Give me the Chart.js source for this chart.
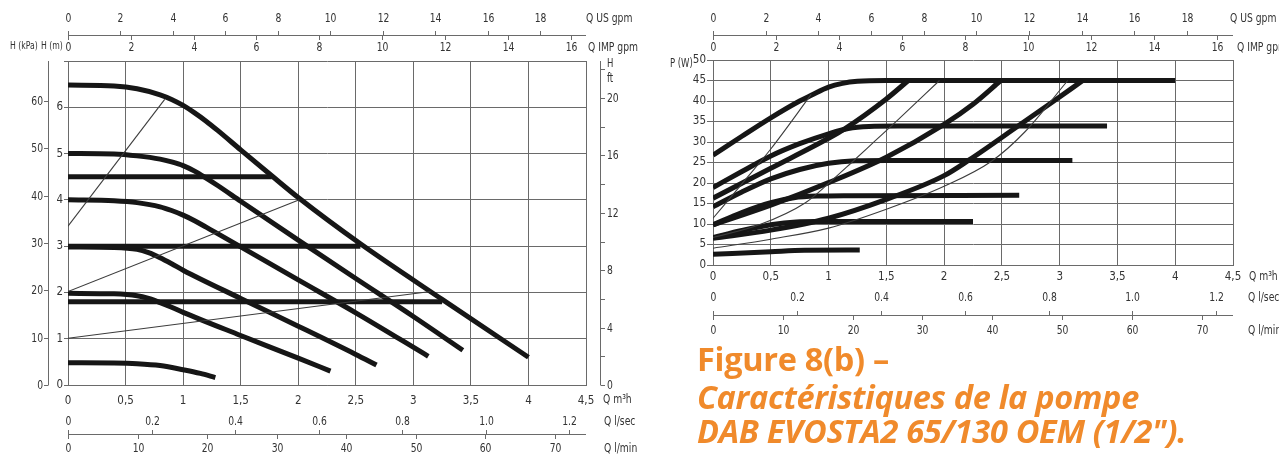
<!DOCTYPE html>
<html><head><meta charset="utf-8">
<script src="https://cdn.jsdelivr.net/npm/chart.js@4.4.1/dist/chart.umd.min.js"></script>
<style>
html,body{margin:0;padding:0;background:#fff;width:1279px;height:457px;overflow:hidden;}
#c1{position:absolute;left:0;top:0;}
#c2{position:absolute;left:640px;top:0;}
#cap{position:absolute;left:697px;top:340px;color:#F08A2B;font-family:'Open Sans','Noto Sans',sans-serif;font-weight:700;font-size:32.5px;line-height:38px;white-space:nowrap;letter-spacing:-0.3px;}
#cap .it{font-style:italic;}
#cap .l3{margin-top:-4px;}
</style></head><body>
<canvas id="c1" width="640" height="457"></canvas>
<canvas id="c2" width="639" height="345"></canvas>
<div id="cap"><div>Figure 8(b) –</div><div class="it">Caractéristiques de la pompe</div><div class="it l3">DAB EVOSTA2 65/130 OEM (1/2").</div></div>
<script>
// ---------- tick labels / axis values ----------
const QM3H_TICK_LABELS = ['0','0,5','1','1,5','2','2,5','3','3,5','4','4,5'];
const US_GPM_TICKS = [0,2,4,6,8,10,12,14,16,18];
const IMP_GPM_TICKS = [0,2,4,6,8,10,12,14,16];
const LSEC_TICKS = [0,0.2,0.4,0.6,0.8,1.0,1.2];
const LSEC_LABELS = ['0','0.2','0.4','0.6','0.8','1.0','1.2'];
const LMIN_TICKS = [0,10,20,30,40,50,60,70];
const HM_TICK_LABELS = ['0','1','2','3','4','5','6',''];
const HKPA_TICKS = [0,10,20,30,40,50,60];
const HFT_TICKS = [0,2,4,6,8,10,12,14,16,18,20,22];
const HFT_LABELLED = [0,4,8,12,16,20];
const PW_TICK_LABELS = ['0','5','10','15','20','25','30','35','40','45','50'];

// unit conversions (from m3/h and m), as calibrated on the drawing
const M3H_TO_USGPM = 4.39, M3H_TO_IMPGPM = 3.665, M3H_TO_LSEC = 0.2755, M3H_TO_LMIN = 16.55;
const KPA_TO_M = 0.1023, FT_TO_M = 0.31;

// ---------- H-Q curves (Q m3/h, H m) ----------
const HQ_MAX_Q = [0,0.4,0.6,0.8,0.9,1.0,1.1,1.2,1.3,1.5,1.77,2.0,2.54,3.25,4.0];
const HQ_MAX_H = [6.48,6.46,6.4,6.27,6.17,6.04,5.88,5.7,5.5,5.08,4.52,4.05,3.05,1.85,0.6];
const HQ_5_Q = [0,0.4,0.6,0.8,0.9,1.0,1.1,1.2,1.3,1.5,2.0,2.5,3.0,3.43];
const HQ_5_H = [5.0,4.99,4.95,4.88,4.82,4.74,4.62,4.47,4.31,3.97,3.13,2.3,1.48,0.75];
const HQ_4_Q = [0,0.4,0.6,0.8,0.9,1.0,1.1,1.2,1.3,2.0,2.5,3.13];
const HQ_4_H = [4.0,3.98,3.94,3.85,3.77,3.67,3.55,3.41,3.27,2.27,1.56,0.62];
const HQ_3_Q = [0,0.4,0.6,0.7,0.8,0.9,1.0,1.5,2.0,2.5,2.68];
const HQ_3_H = [2.98,2.97,2.93,2.86,2.75,2.62,2.48,1.87,1.27,0.66,0.43];
const HQ_2_Q = [0,0.4,0.6,0.7,0.8,0.9,1.0,1.5,2.0,2.28];
const HQ_2_H = [1.98,1.97,1.93,1.87,1.78,1.68,1.57,1.07,0.58,0.3];
const HQ_05_Q = [0,0.4,0.6,0.8,1.0,1.15,1.28];
const HQ_05_H = [0.48,0.475,0.46,0.42,0.33,0.25,0.16];
const HQ_CP45_Q = [0,1.77], HQ_CP45_H = [4.5,4.5];
const HQ_CP3_Q = [0,2.54], HQ_CP3_H = [3.0,3.0];
const HQ_CP18_Q = [0,3.25], HQ_CP18_H = [1.8,1.8];
const HQ_PPA_Q = [0,0.84], HQ_PPA_H = [3.43,6.17];
const HQ_PPB_Q = [0,2.01], HQ_PPB_H = [2.02,4.0];
const HQ_PPC_Q = [0,3.15], HQ_PPC_H = [1.01,2.02];

// ---------- P-Q curves (Q m3/h, P W) ----------
const PQ_MAX_Q = [0,0.25,0.5,0.75,0.85,1.0,1.12,1.25,1.5,4.0];
const PQ_MAX_P = [26.8,31.4,35.9,40.0,41.4,43.4,44.3,44.8,45,45];
const PQ_5_Q = [0,0.25,0.5,0.75,1.0,1.17,1.35,1.6,3.41];
const PQ_5_P = [18.9,22.8,26.6,29.6,32.0,33.3,33.8,33.9,33.9];
const PQ_4_Q = [0,0.25,0.5,0.75,1.0,1.23,1.5,3.11];
const PQ_4_P = [14.2,17.8,21.0,23.3,24.8,25.4,25.5,25.5];
const PQ_3_Q = [0,0.25,0.5,0.7,0.9,1.2,2.65];
const PQ_3_P = [9.8,12.8,15.2,16.4,16.8,16.9,17.0];
const PQ_2_Q = [0,0.25,0.5,0.72,0.9,2.25];
const PQ_2_P = [6.7,8.4,9.8,10.5,10.6,10.6];
const PQ_05_Q = [0,0.5,0.79,1.27];
const PQ_05_P = [2.6,3.25,3.6,3.65];
const PQ_CP45_Q = [0,0.5,1.0,1.14,1.5,1.69];
const PQ_CP45_P = [16.3,23.6,30.9,33.2,40.5,45];
const PQ_CP3_Q = [0,0.5,1.0,1.5,2.0,2.25,2.49];
const PQ_CP3_P = [9.8,14.6,20.1,26.3,34.3,39.2,45];
const PQ_CP18_Q = [0,0.5,1.0,1.5,2.0,2.21,2.64,2.95,3.2];
const PQ_CP18_P = [6.5,8.5,11.4,16.0,21.8,25.5,33.9,40.0,45];
const PQ_PPA_Q = [0,0.25,0.5,0.85];
const PQ_PPA_P = [11.4,19.8,28.3,41.6];
const PQ_PPB_Q = [0,0.4,0.8,1.0,1.2,1.4,1.6,1.96];
const PQ_PPB_P = [6.7,9.8,15.2,19.9,25.0,30.2,35.4,45];
const PQ_PPC_Q = [0,0.5,1.0,1.5,2.0,2.41,2.7,3.07];
const PQ_PPC_P = [4.1,6.3,9.0,13.6,19.2,25.3,32.5,45];

// ---------- styling ----------
const FF = "'Liberation Sans Narrow','DejaVu Sans Condensed','Arial Narrow',sans-serif";
const TXT = '#333';
const GRID = '#6a6a6a';
const THICK = '#161616';
const THIN = '#3c3c3c';

function pts(qs, vs){ return qs.map((q,i)=>({x:q,y:vs[i]})); }
function thick(qs, vs){ return {data:pts(qs,vs), borderColor:THICK, borderWidth:5, pointRadius:0, showLine:true, fill:false, cubicInterpolationMode:'monotone', borderCapStyle:'butt', borderJoinStyle:'round'}; }
function thin(qs, vs){ return {data:pts(qs,vs), borderColor:THIN, borderWidth:1.1, pointRadius:0, showLine:true, fill:false, cubicInterpolationMode:'monotone'}; }

// narrow text (horizontally compressed) to mimic the condensed type of the drawing
function txt(ctx, s, x, y, align, size){
  ctx.save();
  ctx.font = (size||12.5) + 'px ' + FF;
  ctx.fillStyle = TXT; ctx.textAlign = align||'center'; ctx.textBaseline = 'middle';
  ctx.translate(x, y); ctx.scale(0.82, 1);
  ctx.fillText(s, 0, 0);
  ctx.restore();
}
function line(ctx, x1,y1,x2,y2){ ctx.beginPath(); ctx.moveTo(x1,y1); ctx.lineTo(x2,y2); ctx.stroke(); }

// paired horizontal flow axis: upper unit ticks up, lower unit ticks down
function pairedFlowAxis(ctx, xs, o){
  const x0 = xs.getPixelForValue(0), x1 = xs.getPixelForValue(4.5);
  ctx.save(); ctx.strokeStyle = GRID; ctx.lineWidth = 1;
  line(ctx, x0, o.lineY+0.5, x1, o.lineY+0.5);
  o.upVals.forEach((v,i)=>{
    const px = Math.round(xs.getPixelForValue(v / o.upF))+0.5;
    line(ctx, px, o.lineY-4, px, o.lineY+0.5);
    txt(ctx, o.upLabels ? o.upLabels[i] : String(v), px, o.upLabelY);
  });
  o.dnVals.forEach((v,i)=>{
    const px = Math.round(xs.getPixelForValue(v / o.dnF))+0.5;
    line(ctx, px, o.lineY+0.5, px, o.lineY+5);
    txt(ctx, o.dnLabels ? o.dnLabels[i] : String(v), px, o.dnLabelY);
  });
  ctx.restore();
  txt(ctx, o.upName, o.nameX, o.upLabelY, 'left');
  txt(ctx, o.dnName, o.nameX2 || o.nameX, o.dnLabelY, 'left');
}

const extraAxes = {
  id:'extraAxes',
  afterDraw(chart, args, opts){ if (opts && opts.draw) opts.draw(chart, chart.ctx, chart.scales.x, chart.scales.y); }
};
Chart.register(extraAxes);

function drawLeft(chart, ctx, xs, ys){
  const a = chart.chartArea;
  pairedFlowAxis(ctx, xs, {lineY:35, upVals:US_GPM_TICKS, upF:M3H_TO_USGPM, upLabelY:19,
    dnVals:IMP_GPM_TICKS, dnF:M3H_TO_IMPGPM, dnLabelY:48, upName:'Q US gpm', dnName:'Q IMP gpm', nameX:586, nameX2:588});
  pairedFlowAxis(ctx, xs, {lineY:434, upVals:LSEC_TICKS, upLabels:LSEC_LABELS, upF:M3H_TO_LSEC, upLabelY:422,
    dnVals:LMIN_TICKS, dnF:M3H_TO_LMIN, dnLabelY:449, upName:'Q l/sec', dnName:'Q l/min', nameX:604});
  txt(ctx, 'Q m³h', 603, 400, 'left');
  txt(ctx, 'H (kPa)', 10, 46, 'left', 10.5);
  txt(ctx, 'H (m)', 41, 46, 'left', 10.5);
  ctx.save(); ctx.strokeStyle = GRID; ctx.lineWidth = 1;
  line(ctx, 48.5, a.top, 48.5, a.bottom);
  HKPA_TICKS.forEach(v=>{
    const py = Math.round(ys.getPixelForValue(v*KPA_TO_M))+0.5;
    line(ctx, 44, py, 48.5, py);
    txt(ctx, String(v), 43, py, 'right');
  });
  line(ctx, 600.5, a.top, 600.5, a.bottom);
  HFT_TICKS.forEach(v=>{
    const py = Math.round(ys.getPixelForValue(v*FT_TO_M))+0.5;
    line(ctx, 600.5, py, 605, py);
    if (HFT_LABELLED.includes(v)) txt(ctx, String(v), 607, py, 'left');
  });
  ctx.restore();
  txt(ctx, 'H', 607, 64, 'left', 11.5);
  txt(ctx, 'ft', 607, 79, 'left', 11.5);
}

function drawRight(chart, ctx, xs, ys){
  pairedFlowAxis(ctx, xs, {lineY:35, upVals:US_GPM_TICKS, upF:M3H_TO_USGPM, upLabelY:19,
    dnVals:IMP_GPM_TICKS, dnF:M3H_TO_IMPGPM, dnLabelY:48, upName:'Q US gpm', dnName:'Q IMP gpm', nameX:590, nameX2:597});
  pairedFlowAxis(ctx, xs, {lineY:315, upVals:LSEC_TICKS, upLabels:LSEC_LABELS, upF:M3H_TO_LSEC, upLabelY:298,
    dnVals:LMIN_TICKS, dnF:M3H_TO_LMIN, dnLabelY:331, upName:'Q l/sec', dnName:'Q l/min', nameX:608});
  txt(ctx, 'Q m³h', 609, 277, 'left');
  txt(ctx, 'P (W)', 30, 64, 'left', 11.5);
}

function makeOptions(c){
  return {
    responsive:false, animation:false, events:[], devicePixelRatio:1,
    layout:{padding:c.padding},
    plugins:{legend:{display:false}, tooltip:{enabled:false}, extraAxes:{draw:c.draw}},
    scales:{
      x:{type:'linear', min:0, max:4.5, position:'bottom',
        ticks:{stepSize:0.5, autoSkip:false, maxRotation:0, padding:c.xPad, color:TXT, font:{family:FF, size:11.5},
          callback:(v,i)=>QM3H_TICK_LABELS[i]},
        grid:{color:GRID, lineWidth:1, drawTicks:false},
        border:{display:true, color:GRID},
        afterFit:s=>{ s.height = c.xH; }},
      y:{type:'linear', min:0, max:c.ymax, position:'left',
        ticks:{stepSize:c.ystep, autoSkip:false, padding:1, color:TXT, font:{family:FF, size:11.5},
          callback:(v,i)=>c.ylabels[i]},
        grid:{color:GRID, lineWidth:1, tickLength:c.tickLen},
        border:{display:true, color:GRID},
        afterFit:s=>{ s.width = c.yW; }}
    }
  };
}

new Chart(document.getElementById('c1'), {
  type:'scatter',
  data:{datasets:[
    thin(HQ_PPA_Q, HQ_PPA_H), thin(HQ_PPB_Q, HQ_PPB_H), thin(HQ_PPC_Q, HQ_PPC_H),
    thick(HQ_CP45_Q, HQ_CP45_H), thick(HQ_CP3_Q, HQ_CP3_H), thick(HQ_CP18_Q, HQ_CP18_H),
    thick(HQ_MAX_Q, HQ_MAX_H), thick(HQ_5_Q, HQ_5_H), thick(HQ_4_Q, HQ_4_H),
    thick(HQ_3_Q, HQ_3_H), thick(HQ_2_Q, HQ_2_H), thick(HQ_05_Q, HQ_05_H)
  ]},
  options: makeOptions({padding:{left:48, right:54, top:61, bottom:50}, xH:22, xPad:9,
    ymax:7, ystep:1, ylabels:HM_TICK_LABELS, tickLen:4, yW:20, draw:drawLeft})
});

new Chart(document.getElementById('c2'), {
  type:'scatter',
  data:{datasets:[
    thin(PQ_PPA_Q, PQ_PPA_P), thin(PQ_PPB_Q, PQ_PPB_P), thin(PQ_PPC_Q, PQ_PPC_P),
    thick(PQ_CP45_Q, PQ_CP45_P), thick(PQ_CP3_Q, PQ_CP3_P), thick(PQ_CP18_Q, PQ_CP18_P),
    thick(PQ_MAX_Q, PQ_MAX_P), thick(PQ_5_Q, PQ_5_P), thick(PQ_4_Q, PQ_4_P),
    thick(PQ_3_Q, PQ_3_P), thick(PQ_2_Q, PQ_2_P), thick(PQ_05_Q, PQ_05_P)
  ]},
  options: makeOptions({padding:{left:48, right:46, top:60, bottom:58}, xH:22, xPad:5,
    ymax:50, ystep:5, ylabels:PW_TICK_LABELS, tickLen:6, yW:25, draw:drawRight})
});
</script>
</body></html>
